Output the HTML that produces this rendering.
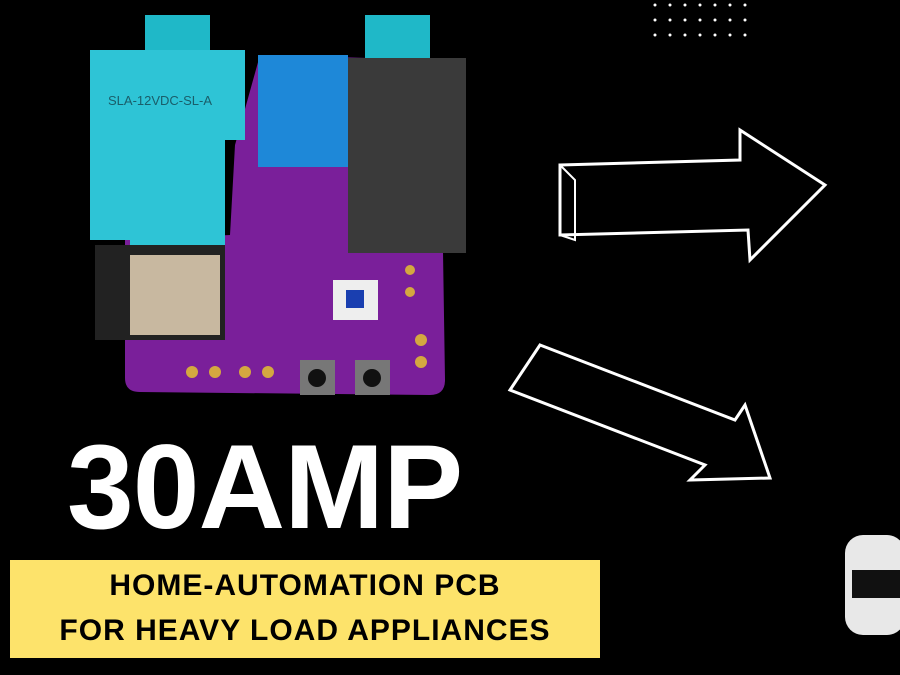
<!DOCTYPE html>
<html><head><style>
body{margin:0;width:900px;height:675px;background:#000;overflow:hidden;position:relative;font-family:"Liberation Sans",sans-serif}
.a{position:absolute}
</style></head><body>
<svg class="a" style="left:0;top:0" width="900" height="675">
<g fill="#fff">
<circle cx="655" cy="5" r="1.5"/><circle cx="670" cy="5" r="1.5"/><circle cx="685" cy="5" r="1.5"/><circle cx="700" cy="5" r="1.5"/><circle cx="715" cy="5" r="1.5"/><circle cx="730" cy="5" r="1.5"/><circle cx="745" cy="5" r="1.5"/>
<circle cx="655" cy="20" r="1.5"/><circle cx="670" cy="20" r="1.5"/><circle cx="685" cy="20" r="1.5"/><circle cx="700" cy="20" r="1.5"/><circle cx="715" cy="20" r="1.5"/><circle cx="730" cy="20" r="1.5"/><circle cx="745" cy="20" r="1.5"/>
<circle cx="655" cy="35" r="1.5"/><circle cx="670" cy="35" r="1.5"/><circle cx="685" cy="35" r="1.5"/><circle cx="700" cy="35" r="1.5"/><circle cx="715" cy="35" r="1.5"/><circle cx="730" cy="35" r="1.5"/><circle cx="745" cy="35" r="1.5"/>
</g>
<path d="M125,240 L230,235 L235,145 L260,55 L440,60 L445,380 Q445,395 430,395 L140,392 Q125,392 125,378 Z" fill="#7a1f9a"/>
<rect x="145" y="15" width="65" height="40" fill="#1fb8c8"/>
<rect x="365" y="15" width="65" height="45" fill="#1fb8c8"/>
<path d="M90,50 L245,50 L245,140 L225,140 L225,245 L130,245 L130,240 L90,240 Z" fill="#2ec4d6"/>
<text x="108" y="105" fill="#1a5e6a" font-size="13">SLA-12VDC-SL-A</text>
<rect x="258" y="55" width="90" height="112" fill="#1e88d8"/>
<rect x="348" y="58" width="118" height="195" fill="#3a3a3a"/>
<rect x="95" y="245" width="130" height="95" fill="#222"/>
<rect x="130" y="255" width="90" height="80" fill="#c8b8a0"/>
<rect x="300" y="360" width="35" height="35" fill="#777"/><circle cx="317" cy="378" r="9" fill="#111"/>
<rect x="355" y="360" width="35" height="35" fill="#777"/><circle cx="372" cy="378" r="9" fill="#111"/>
<rect x="333" y="280" width="45" height="40" fill="#eee"/><rect x="346" y="290" width="18" height="18" fill="#1a3fb0"/>
<g fill="#d4a840"><circle cx="192" cy="372" r="6"/><circle cx="215" cy="372" r="6"/><circle cx="245" cy="372" r="6"/><circle cx="268" cy="372" r="6"/><circle cx="421" cy="340" r="6"/><circle cx="421" cy="362" r="6"/><circle cx="410" cy="270" r="5"/><circle cx="410" cy="292" r="5"/></g>
<path d="M560,165 L740,160 L740,130 L825,185 L750,260 L748,230 L560,235 Z" fill="none" stroke="#fff" stroke-width="3"/>
<path d="M560,165 L575,180 L575,240 L560,235" fill="none" stroke="#fff" stroke-width="2"/>
<path d="M540,345 L735,420 L745,405 L770,478 L690,480 L705,465 L510,390 Z" fill="none" stroke="#fff" stroke-width="3"/>
<rect x="845" y="535" width="60" height="100" rx="18" fill="#e8e8e8"/>
<rect x="852" y="570" width="48" height="28" fill="#111"/>
</svg>
<div class="a" style="left:67px;top:425px;font-size:120px;font-weight:bold;color:#fff;letter-spacing:-1px;line-height:125px">30AMP</div>
<div class="a" style="left:10px;top:560px;width:590px;height:95px;background:#fde36b;color:#000;font-weight:bold;font-size:30px;letter-spacing:1px;text-align:center;line-height:45px;padding-top:3px">HOME-AUTOMATION PCB<br>FOR HEAVY LOAD APPLIANCES</div>
</body></html>
